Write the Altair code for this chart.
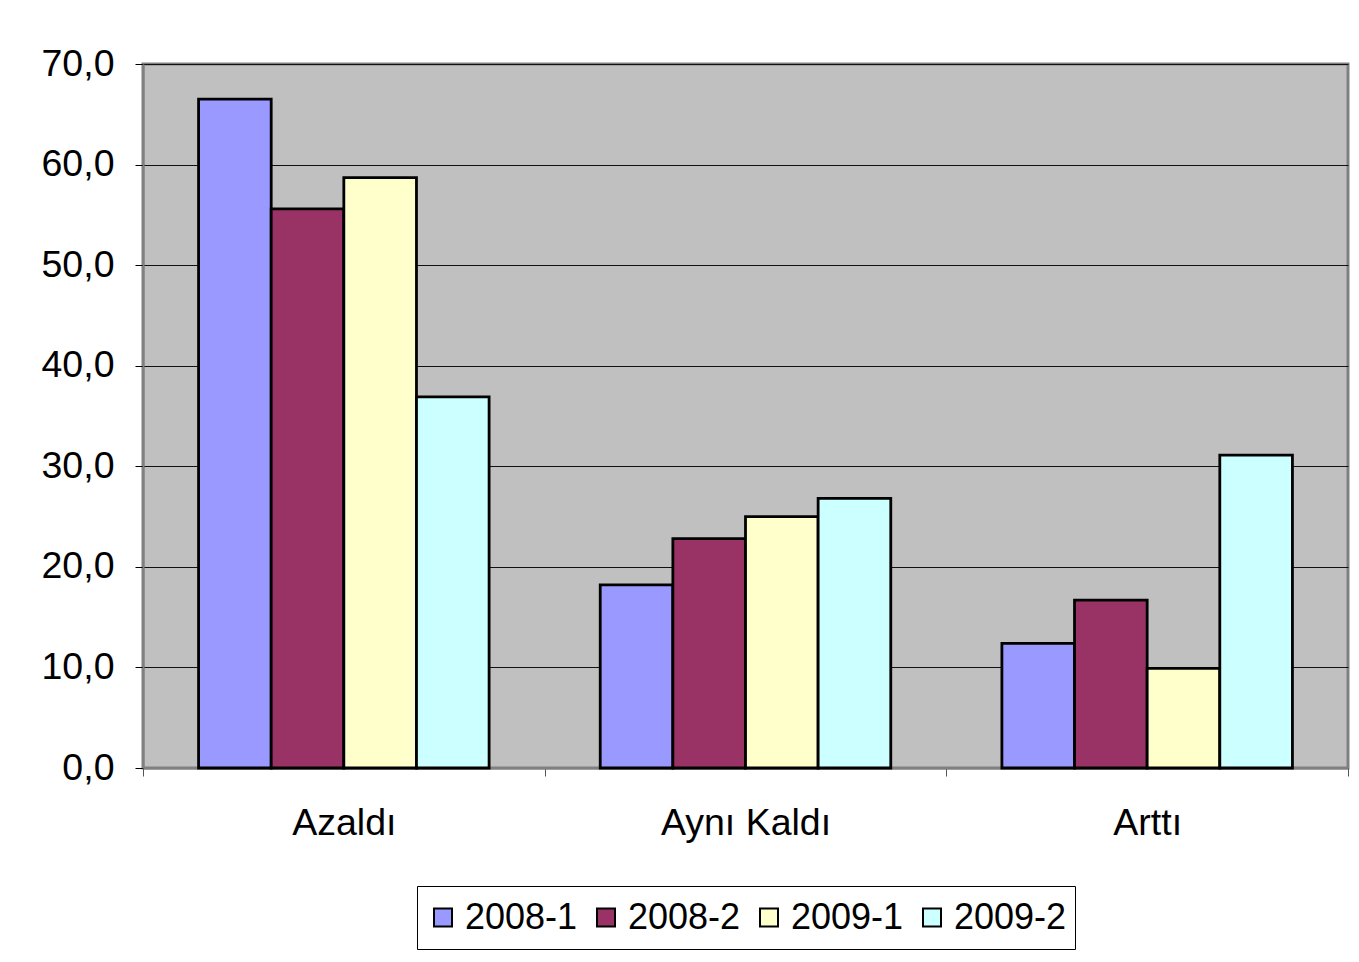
import altair as alt
import pandas as pd

categories = ["Azaldı", "Aynı Kaldı", "Arttı"]
series = ["2008-1", "2008-2", "2009-1", "2009-2"]
values_2008_1 = [66.5, 18.2, 12.4]
values_2008_2 = [55.6, 22.8, 16.7]
values_2009_1 = [58.7, 25.0, 9.9]
values_2009_2 = [36.9, 26.8, 31.1]
colors = ["#9999FF", "#993366", "#FFFFCC", "#CCFFFF"]
y_ticks = [0, 10, 20, 30, 40, 50, 60, 70]

rows = []
for s, vals in zip(series, [values_2008_1, values_2008_2, values_2009_1, values_2009_2]):
    for c, v in zip(categories, vals):
        rows.append({"Kategori": c, "Dönem": s, "Değer": v})
df = pd.DataFrame(rows)

FONT = "Liberation Sans"

chart = alt.Chart(df).mark_bar(stroke="black", strokeWidth=2.8).encode(
    x=alt.X(
        "Kategori:N",
        sort=categories,
        scale=alt.Scale(paddingInner=0, paddingOuter=0),
        axis=alt.Axis(
            title=None,
            labelAngle=0,
            tickBand="extent",
            labelFontSize=37.5,
            labelFont=FONT,
            labelColor="black",
            labelPadding=28,
            tickSize=8,
            tickColor="#555555",
            domainColor="#808080",
            domainWidth=2,
            grid=False,
        ),
    ),
    xOffset=alt.XOffset("Dönem:N", sort=series, scale=alt.Scale(paddingInner=0, paddingOuter=0.765)),
    y=alt.Y(
        "Değer:Q",
        scale=alt.Scale(domain=[0, 70], nice=False),
        axis=alt.Axis(
            title=None,
            values=y_ticks,
            labelExpr="replace(format(datum.value, '.1f'), '.', ',')",
            labelFontSize=37.5,
            labelFont=FONT,
            labelColor="black",
            labelPadding=21,
            tickSize=8,
            tickColor="black",
            domainColor="#808080",
            domainWidth=2,
            grid=True,
            gridColor="#111111",
            gridWidth=1,
        ),
    ),
    color=alt.Color(
        "Dönem:N",
        sort=series,
        scale=alt.Scale(domain=series, range=colors),
        legend=alt.Legend(
            title=None,
            orient="none",
            legendX=274,
            legendY=822,
            direction="horizontal",
            fillColor="white",
            strokeColor="black",
            padding=8,
            clipHeight=47,
            labelFontSize=36,
            labelFont=FONT,
            labelColor="black",
            symbolType="square",
            symbolSize=324,
            symbolStrokeColor="black",
            symbolStrokeWidth=2,
            columnPadding=10,
            labelOffset=4,
        ),
    ),
).properties(
    width=1205,
    height=704,
    autosize=alt.AutoSizeParams(type="none"),
    padding={"left": 135, "top": 56, "right": 3, "bottom": 186},
    background="white",
).configure_view(
    fill="#C0C0C0",
    stroke="#808080",
    strokeWidth=3,
)

chart.save("out.html", embed_options={"renderer": "svg", "actions": False})
